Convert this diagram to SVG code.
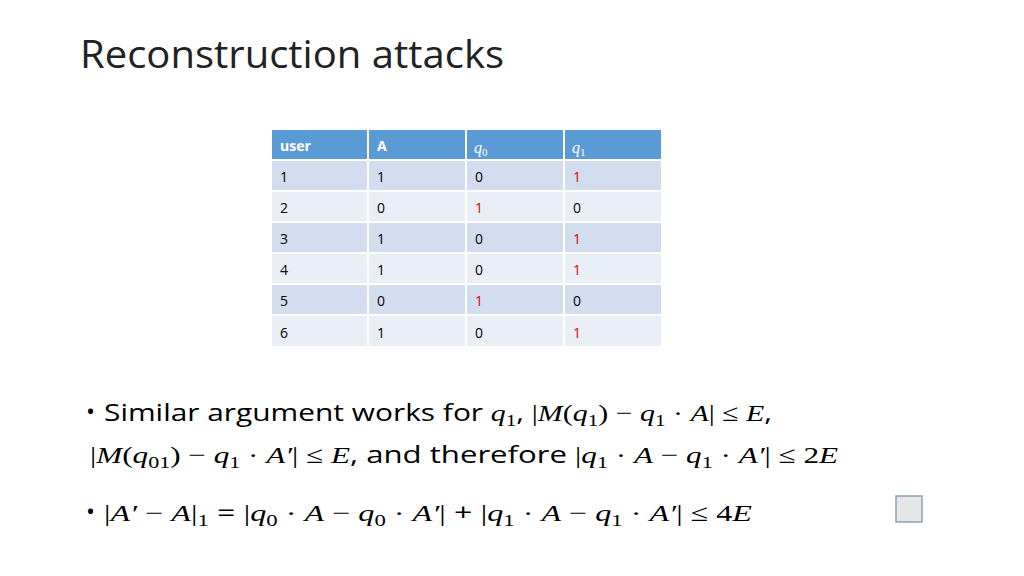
<svg xmlns="http://www.w3.org/2000/svg" width="1024" height="576" viewBox="0 0 1024 576">
<style>
.t{font-family:"Open Sans","Noto Sans",sans-serif;font-size:14px;fill:#000}
.h{font-family:"Open Sans","Noto Sans",sans-serif;font-size:14px;font-weight:bold;fill:#fff}
.hm{font-family:"Liberation Serif",serif;font-style:italic;font-size:16px;fill:#fff}
.r{fill:#e00000}
.b{font-family:"Liberation Sans Narrow","Open Sans",sans-serif;font-size:24px;fill:#000}
.m{font-family:"Liberation Serif","DejaVu Serif",serif;font-style:italic}
.n{font-family:"Liberation Serif","DejaVu Serif",serif;font-style:normal}
.s{font-size:17px}
</style>
<rect width="1024" height="576" fill="#fff"/>
<text x="80" y="68" font-family="Open Sans,Noto Sans,sans-serif" font-size="38" fill="#222" textLength="424" lengthAdjust="spacingAndGlyphs">Reconstruction attacks</text>
<g id="table" stroke="#fff" stroke-width="2">
<rect x="271" y="129" width="97" height="31" fill="#5b9bd5"/><rect x="368" y="129" width="98" height="31" fill="#5b9bd5"/><rect x="466" y="129" width="98" height="31" fill="#5b9bd5"/><rect x="564" y="129" width="98" height="31" fill="#5b9bd5"/>
<g fill="#d2deef"><rect x="271" y="160" width="97" height="31"/><rect x="368" y="160" width="98" height="31"/><rect x="466" y="160" width="98" height="31"/><rect x="564" y="160" width="98" height="31"/>
<rect x="271" y="222" width="97" height="31"/><rect x="368" y="222" width="98" height="31"/><rect x="466" y="222" width="98" height="31"/><rect x="564" y="222" width="98" height="31"/>
<rect x="271" y="284" width="97" height="31"/><rect x="368" y="284" width="98" height="31"/><rect x="466" y="284" width="98" height="31"/><rect x="564" y="284" width="98" height="31"/></g>
<g fill="#eaeff7"><rect x="271" y="191" width="97" height="31"/><rect x="368" y="191" width="98" height="31"/><rect x="466" y="191" width="98" height="31"/><rect x="564" y="191" width="98" height="31"/>
<rect x="271" y="253" width="97" height="31"/><rect x="368" y="253" width="98" height="31"/><rect x="466" y="253" width="98" height="31"/><rect x="564" y="253" width="98" height="31"/>
<rect x="271" y="315" width="97" height="32"/><rect x="368" y="315" width="98" height="32"/><rect x="466" y="315" width="98" height="32"/><rect x="564" y="315" width="98" height="32"/></g>
</g>
<g id="table-text">
<text class="h" x="280" y="151">user</text><text class="h" x="377" y="151">A</text>
<text class="hm" x="474" y="153">q<tspan font-size="11" font-style="normal" dy="3">0</tspan></text>
<text class="hm" x="572" y="153">q<tspan font-size="11" font-style="normal" dy="3">1</tspan></text>
<text class="t" x="280" y="182">1</text><text class="t" x="377" y="182">1</text><text class="t" x="475" y="182">0</text><text class="t r" x="573" y="182">1</text>
<text class="t" x="280" y="213">2</text><text class="t" x="377" y="213">0</text><text class="t r" x="475" y="213">1</text><text class="t" x="573" y="213">0</text>
<text class="t" x="280" y="244">3</text><text class="t" x="377" y="244">1</text><text class="t" x="475" y="244">0</text><text class="t r" x="573" y="244">1</text>
<text class="t" x="280" y="275">4</text><text class="t" x="377" y="275">1</text><text class="t" x="475" y="275">0</text><text class="t r" x="573" y="275">1</text>
<text class="t" x="280" y="306">5</text><text class="t" x="377" y="306">0</text><text class="t r" x="475" y="306">1</text><text class="t" x="573" y="306">0</text>
<text class="t" x="280" y="338">6</text><text class="t" x="377" y="338">1</text><text class="t" x="475" y="338">0</text><text class="t r" x="573" y="338">1</text>
</g>
<g id="bullets">
<text class="b" x="86" y="420">•</text>
<text class="b" x="104" y="421" textLength="668" lengthAdjust="spacingAndGlyphs">Similar argument works for <tspan class="m">q</tspan><tspan class="n s" dy="5">1</tspan><tspan dy="-5">, </tspan><tspan class="n">|</tspan><tspan class="m">M</tspan><tspan class="n">(</tspan><tspan class="m">q</tspan><tspan class="n s" dy="5">1</tspan><tspan class="n" dy="-5">) − </tspan><tspan class="m">q</tspan><tspan class="n s" dy="5">1</tspan><tspan class="n" dy="-5"> · </tspan><tspan class="m">A</tspan><tspan class="n">| ≤ </tspan><tspan class="m">E</tspan>,</text>
<text class="b" x="90" y="463" textLength="748" lengthAdjust="spacingAndGlyphs"><tspan class="n">|</tspan><tspan class="m">M</tspan><tspan class="n">(</tspan><tspan class="m">q</tspan><tspan class="n s" dy="5">01</tspan><tspan class="n" dy="-5">) − </tspan><tspan class="m">q</tspan><tspan class="n s" dy="5">1</tspan><tspan class="n" dy="-5"> · </tspan><tspan class="m">A′</tspan><tspan class="n">| ≤ </tspan><tspan class="m">E</tspan>, and therefore <tspan class="n">|</tspan><tspan class="m">q</tspan><tspan class="n s" dy="5">1</tspan><tspan class="n" dy="-5"> · </tspan><tspan class="m">A</tspan><tspan class="n"> − </tspan><tspan class="m">q</tspan><tspan class="n s" dy="5">1</tspan><tspan class="n" dy="-5"> · </tspan><tspan class="m">A′</tspan><tspan class="n">| ≤ 2</tspan><tspan class="m">E</tspan></text>
<text class="b" x="86" y="520">•</text>
<text class="b" x="104" y="521" textLength="648" lengthAdjust="spacingAndGlyphs"><tspan class="n">|</tspan><tspan class="m">A′</tspan><tspan class="n"> − </tspan><tspan class="m">A</tspan><tspan class="n">|</tspan><tspan class="n s" dy="5">1</tspan><tspan dy="-5"> = </tspan><tspan class="n">|</tspan><tspan class="m">q</tspan><tspan class="n s" dy="5">0</tspan><tspan class="n" dy="-5"> · </tspan><tspan class="m">A</tspan><tspan class="n"> − </tspan><tspan class="m">q</tspan><tspan class="n s" dy="5">0</tspan><tspan class="n" dy="-5"> · </tspan><tspan class="m">A′</tspan><tspan class="n">|</tspan> + <tspan class="n">|</tspan><tspan class="m">q</tspan><tspan class="n s" dy="5">1</tspan><tspan class="n" dy="-5"> · </tspan><tspan class="m">A</tspan><tspan class="n"> − </tspan><tspan class="m">q</tspan><tspan class="n s" dy="5">1</tspan><tspan class="n" dy="-5"> · </tspan><tspan class="m">A′</tspan><tspan class="n">| ≤ 4</tspan><tspan class="m">E</tspan></text>
</g>
<rect id="box" x="896" y="496" width="26" height="26" fill="#e6e6e6" stroke="#8aa2bd" stroke-width="1.5"/>
</svg>
